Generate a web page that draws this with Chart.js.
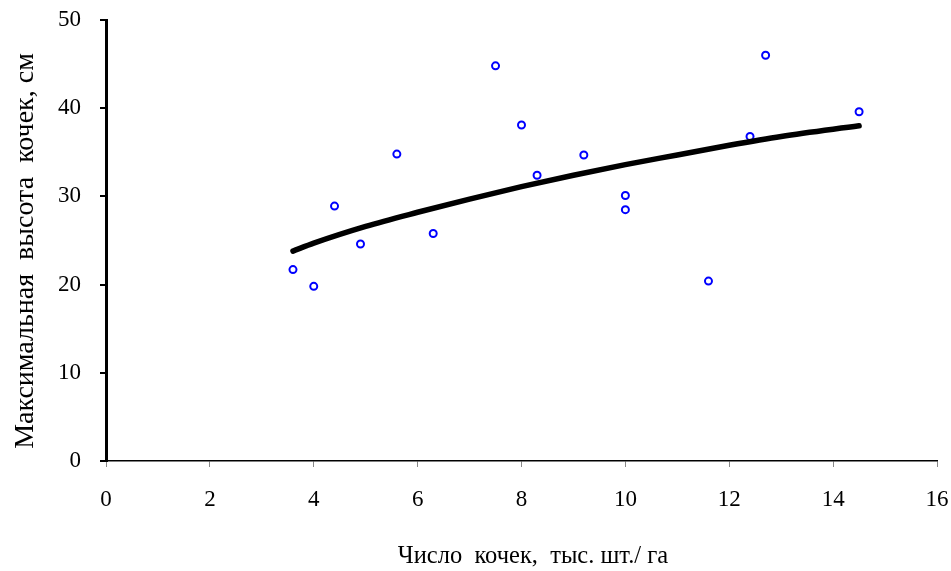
<!DOCTYPE html>
<html>
<head>
<meta charset="utf-8">
<script src="https://cdn.jsdelivr.net/npm/chart.js@4.4.0/dist/chart.umd.min.js"></script>
<style>
  html, body { margin: 0; padding: 0; background: #fff; }
  #wrap { width: 951px; height: 571px; }
</style>
</head>
<body>
<div id="wrap"><canvas id="chart"></canvas></div>
<script>
// observed points: density (x) and max hummock height (y)
const pointX = [3.6, 4.0, 4.4, 4.9, 5.6, 6.3, 7.5, 8.0, 8.3, 9.2, 10.0, 10.0, 11.6, 12.4, 12.7, 14.5];
const pointY = [21.7, 19.8, 28.9, 24.6, 34.8, 25.8, 44.8, 38.1, 32.4, 34.7, 30.1, 28.5, 20.4, 36.8, 46.0, 39.6];

// trend curve
const trendX = [3.6, 4, 5, 6, 7, 8, 9, 10, 11, 12, 13, 14.5];
const trendY = [23.8, 24.7, 26.6, 28.2, 29.7, 31.1, 32.4, 33.6, 34.7, 35.8, 36.8, 38.0];

const xTicks = [0, 2, 4, 6, 8, 10, 12, 14, 16];
const yTicks = [0, 10, 20, 30, 40, 50];

const xTitle = "Число  кочек,  тыс. шт./ га";
const yTitle = "Максимальная  высота  кочек, см";

const serif = "'Liberation Serif', 'Times New Roman', serif";
const tickFont = { family: serif, size: 23 };

// axis titles sit a little off-centre in the original, so draw them by hand
const axisTitles = {
  id: "axisTitles",
  afterDraw(chart) {
    const ctx = chart.ctx;
    ctx.save();
    ctx.fillStyle = "#000";
    ctx.textAlign = "center";
    ctx.textBaseline = "alphabetic";
    ctx.font = "24.5px " + serif;
    ctx.fillText(xTitle, 533, 563);
    ctx.translate(33, 251);
    ctx.rotate(-Math.PI / 2);
    ctx.font = "28px " + serif;
    ctx.fillText(yTitle, 0, 0);
    ctx.restore();
  },
};

new Chart(document.getElementById("chart"), {
  type: "scatter",
  data: {
    datasets: [
      {
        label: "trend",
        type: "line",
        data: trendX.map((x, i) => ({ x: x, y: trendY[i] })),
        borderColor: "#000",
        borderWidth: 5.5,
        borderCapStyle: "round",
        cubicInterpolationMode: "monotone",
        pointRadius: 0,
        fill: false,
      },
      {
        label: "points",
        data: pointX.map((x, i) => ({ x: x, y: pointY[i] })),
        pointStyle: "circle",
        pointRadius: 3.5,
        borderColor: "#0000ff",
        borderWidth: 2,
        backgroundColor: "#fff",
      },
    ],
  },
  plugins: [axisTitles],
  options: {
    responsive: true,
    maintainAspectRatio: false,
    animation: false,
    layout: { padding: { top: 20, right: 14, left: 0, bottom: 0 } },
    plugins: { legend: { display: false }, tooltip: { enabled: false } },
    scales: {
      x: {
        type: "linear",
        min: 0,
        max: 16,
        afterBuildTicks: (s) => { s.ticks = xTicks.map((v) => ({ value: v })); },
        afterFit: (s) => { s.height = 110; s.paddingLeft = 0; s.paddingRight = 0; },
        ticks: { color: "#000", font: tickFont, padding: 19, maxRotation: 0 },
        grid: { drawOnChartArea: false, drawTicks: true, tickLength: 6, color: "#888", lineWidth: 1 },
        border: { display: true, color: "#000", width: 1.5 },
      },
      y: {
        type: "linear",
        min: 0,
        max: 50,
        afterBuildTicks: (s) => { s.ticks = yTicks.map((v) => ({ value: v })); },
        afterFit: (s) => { s.width = 106; s.paddingTop = 0; s.paddingBottom = 0; },
        ticks: { color: "#000", font: tickFont, padding: 19 },
        grid: { drawOnChartArea: false, drawTicks: true, tickLength: 6, color: "#000", lineWidth: 2 },
        border: { display: true, color: "#000", width: 3 },
      },
    },
  },
});
</script>
</body>
</html>
